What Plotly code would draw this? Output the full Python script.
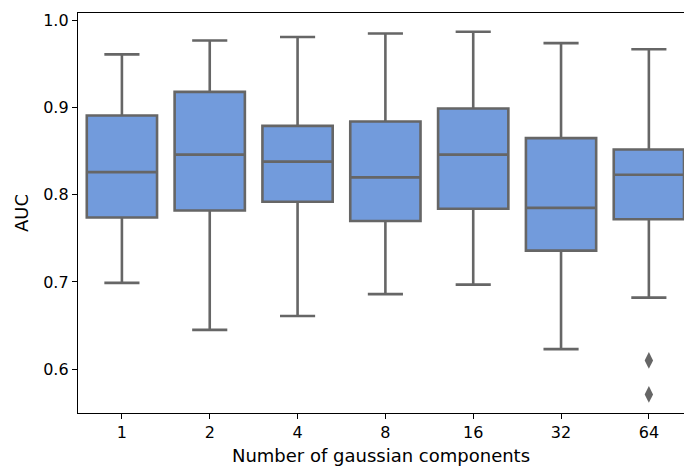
import plotly.graph_objects as go

categories = ["1", "2", "4", "8", "16", "32", "64"]
upper_whisker = [0.961, 0.977, 0.981, 0.985, 0.987, 0.974, 0.967]
q3_values = [0.891, 0.918, 0.879, 0.884, 0.899, 0.865, 0.852]
medians = [0.826, 0.846, 0.838, 0.820, 0.846, 0.785, 0.823]
q1_values = [0.774, 0.782, 0.792, 0.770, 0.784, 0.736, 0.772]
lower_whisker = [0.699, 0.645, 0.661, 0.686, 0.697, 0.623, 0.682]
outlier_category = ["64", "64"]
outlier_values = [0.610, 0.571]

pos = list(range(len(categories)))
gray = "rgb(102,102,102)"
fill = "rgb(114,155,220)"

fig = go.Figure()
fig.add_trace(go.Box(
    x=pos, q1=q1_values, median=medians, q3=q3_values,
    lowerfence=lower_whisker, upperfence=upper_whisker,
    width=0.8, whiskerwidth=0.5,
    fillcolor=fill, line=dict(color=gray, width=2.6),
    boxpoints=False, showlegend=False, hoverinfo="skip",
))
fig.add_trace(go.Scatter(
    x=[categories.index(c) for c in outlier_category], y=outlier_values,
    mode="markers",
    marker=dict(symbol="diamond-tall", size=12, color=gray, line=dict(width=0)),
    showlegend=False,
))

tick_font = dict(family="DejaVu Sans", size=16, color="black")
label_font = dict(family="DejaVu Sans", size=18, color="black")
fig.update_layout(
    width=684, height=469,
    margin=dict(l=78, r=0, t=13, b=56),
    plot_bgcolor="white", paper_bgcolor="white",
    font=dict(family="DejaVu Sans", color="black"),
    xaxis=dict(
        range=[-0.5, 6.4], tickvals=pos, ticktext=categories,
        showgrid=False, zeroline=False,
        showline=True, linecolor="black", linewidth=1.3, mirror=True,
        ticks="outside", ticklen=5, tickwidth=1.2, tickcolor="black",
        tickfont=tick_font,
        title=dict(text="Number of gaussian components", font=label_font, standoff=8),
    ),
    yaxis=dict(
        range=[0.5497, 1.0085], tickvals=[0.6, 0.7, 0.8, 0.9, 1.0], tickformat=".1f",
        showgrid=False, zeroline=False,
        showline=True, linecolor="black", linewidth=1.3,
        ticks="outside", ticklen=5, tickwidth=1.2, tickcolor="black",
        tickfont=tick_font,
        title=dict(text="AUC", font=label_font, standoff=9),
    ),
)
fig.write_html("out.html")
